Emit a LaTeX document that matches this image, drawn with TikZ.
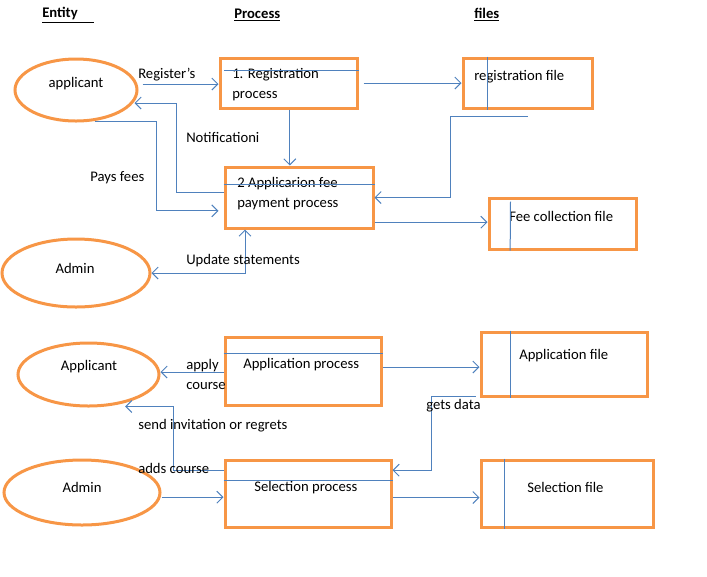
\documentclass[tikz,border=0pt]{standalone}
\usepackage{fontspec}
\setmainfont{Carlito}
\usetikzlibrary{arrows.meta,positioning,fit,shapes.geometric}
\definecolor{boxorange}{RGB}{247,150,70}
\definecolor{flowblue}{RGB}{79,129,189}
\tikzset{
	entity/.style={
		ellipse,
		draw=boxorange,
		line width=2.25pt,
		inner sep=0pt
	},
	procbox/.style={
		draw=boxorange,
		line width=2.25pt,
		inner sep=0pt
	},
	txt/.style={
		inner sep=0pt,
		anchor=west,
		align=left,
		yshift=-1.5pt,
		font=\fontsize{11}{15}\selectfont
	},
	head/.style={
		inner sep=0pt,
		anchor=west,
		yshift=-1.5pt,
		font=\fontsize{11}{13}\selectfont\bfseries
	},
	flow/.style={
		-{Straight Barb[length=4.5pt,width=9pt]},
		draw=flowblue,
		line width=0.75pt
	},
	divider/.style={
		draw=flowblue,
		line width=0.75pt
	}
}
\begin{document}
\begin{tikzpicture}[x=0.75pt,y=-0.75pt]
	\useasboundingbox (0,0) rectangle (707,576);
	
	% --- HEADINGS ---
	\node[head] (hEntity) at (42,13) {\underline{Entity\hspace{12pt}}};
	\node[head] (hProcess) at (234,13) {\underline{Process}};
	\node[head] (hFiles) at (474,13) {\underline{files}};
	
	% --- UPPER PART: REGISTRATION AND FEES ---
	\node[entity, minimum width=91.5pt, minimum height=46.5pt] (app1) at (76,90) {};
	\node[txt, anchor=center] at (76,82) {applicant};
	
	\node[procbox, fit={(220,58) (357,108)}] (reg) {};
	\node[txt] at (232,83) {1. Registration\\process};
	
	\node[procbox, fit={(463,58) (592,108)}] (regf) {};
	\node[txt] at (474,75) {registration file};
	
	\node[procbox, fit={(225,167) (373,228)}] (pay) {};
	\node[txt] at (237,192) {2 Applicarion fee\\payment process};
	
	\node[procbox, fit={(489,198) (636,249)}] (feef) {};
	\node[txt] at (509,214) {Fee collection file};
	
	\node[entity, minimum width=111pt, minimum height=51pt] (adm1) at (76,273) {};
	\node[txt, anchor=center] at (75,266) {Admin};
	
	% inner lines
	\draw[divider] ([xshift=4pt,yshift=-10.5pt]reg.north west) -- ([yshift=-10.5pt]reg.north east);
	\draw[divider] ([yshift=-14.25pt]pay.north west) -- ([yshift=-14.25pt]pay.north east);
	\draw[divider] ([xshift=19.5pt]regf.north west) -- ([xshift=19.5pt]regf.south west);
	\draw[divider] ([xshift=17.25pt,yshift=-3.75pt]feef.north west) -- ([xshift=17pt]feef.south west);
	
	% connections
	\draw[flow] ([xshift=3pt,yshift=4.5pt]app1.east) coordinate (s1) -- (s1 -| reg.west);
	\node[txt] at (138,73) {Register’s};
	
	\draw[flow] ([xshift=3.75pt]reg.east) -- (regf.west);
	
	\draw[flow] ([yshift=4pt]pay.west) -- ++(-35.25pt,0) |- ([xshift=-3pt,yshift=-9.75pt]app1.east);
	\node[txt] at (186,135) {Notificationi};
	
	\draw[flow] ([xshift=14pt,yshift=0.75pt]app1.south) -- ++(46.5pt,0) |- ([xshift=-3.75pt,yshift=-10pt]pay.west);
	\node[txt] at (90,176) {Pays fees};
	
	\draw[flow] ([xshift=1pt]reg.south) -- ([xshift=1pt]reg.south |- pay.north);
	
	\draw[flow] ([yshift=-5.5pt]regf.south) -- ++(-57.75pt,0) |- (pay.east);
	
	\draw[flow] ([yshift=-18.5pt]pay.east) coordinate (s2) -- (s2 -| feef.west);
	
	\draw[flow, {Straight Barb[length=4.5pt,width=9pt]}-{Straight Barb[length=4.5pt,width=9pt]}] (adm1.east) -| ([xshift=-40.5pt]pay.south);
	\node[txt] at (186,259) {Update statements};
	
	% --- LOWER PART: APPLICATION AND SELECTION ---
	\node[entity, minimum width=105.75pt, minimum height=47.25pt] (app2) at (88.5,374.5) {};
	\node[txt, anchor=center] at (89,365) {Applicant};
	
	\node[procbox, fit={(225,337) (381,405)}] (appp) {};
	\node[txt] at (243,363) {Application process};
	
	\node[procbox, fit={(481,332) (647,396)}] (appf) {};
	\node[txt] at (519,354) {Application file};
	
	\node[entity, minimum width=117pt, minimum height=48.75pt] (adm2) at (82,492.5) {};
	\node[txt, anchor=center] at (82,485) {Admin};
	
	\node[procbox, fit={(225,460) (391,527)}] (selp) {};
	\node[txt] at (254,486) {Selection process};
	
	\node[procbox, fit={(481,460) (653,527)}] (self) {};
	\node[txt] at (527,485) {Selection file};
	
	% inner lines
	\draw[divider] ([yshift=-13.5pt]appp.north west) -- ([yshift=-13.5pt]appp.north east);
	\draw[divider] ([yshift=-16.5pt]selp.north west) -- ([yshift=-16.5pt]selp.north east);
	\draw[divider] ([xshift=23.25pt]appf.north west) -- ([xshift=23.25pt]appf.south west);
	\draw[divider] ([xshift=18.75pt]self.north west) -- ([xshift=18.75pt]self.south west);
	
	% connections
	\draw[flow] ([yshift=-0.75pt]appp.west) coordinate (s3) -- (s3 -| app2.east);
	\node[txt] at (186,372) {apply\\course};
	
	\draw[flow] ([yshift=3pt]appp.east) coordinate (s4) -- (s4 -| appf.west);
	
	\draw[flow] ([xshift=-3pt,yshift=0.75pt]appf.south west) -- ++(-33pt,0) |- ([yshift=17.5pt]selp.east);
	\node[txt] at (426,404) {gets data};
	
	\draw[flow] ([yshift=17.5pt]selp.west) -- ++(-37.5pt,0) |- ([xshift=27.5pt,yshift=0.75pt]app2.south);
	\node[txt] at (138,424) {send invitation or regrets};
	\node[txt] at (138,466) {adds course};
	
	\draw[flow] ([yshift=-3.5pt]adm2.east) coordinate (s5) -- (s5 -| selp.west);
	
	\draw[flow] ([yshift=-3pt]selp.east) coordinate (s6) -- (s6 -| self.west);
	
\end{tikzpicture}
\end{document}
